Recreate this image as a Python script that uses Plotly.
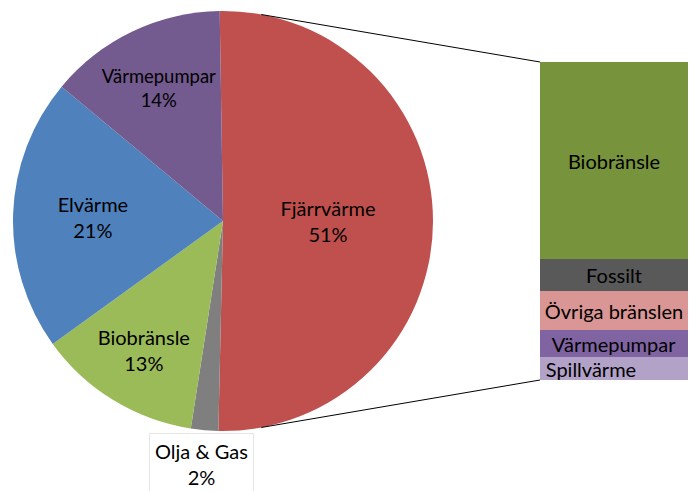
import math
import plotly.graph_objects as go

# Pie data (share of heating, %)
pie_labels = ["Fjärrvärme", "Olja & Gas", "Biobränsle", "Elvärme", "Värmepumpar"]
pie_values = [50.6, 2.1, 12.6, 21.0, 13.7]
pie_colors = ["#C0504D", "#7F7F7F", "#9BBB59", "#4F81BD", "#735A8F"]

# Breakdown of Fjärrvärme (%), top to bottom
bar_labels = ["Biobränsle", "Fossilt", "Övriga bränslen", "Värmepumpar", "Spillvärme"]
bar_values = [61.8, 10.1, 12.3, 8.5, 7.3]
bar_colors = ["#77933C", "#595959", "#D99694", "#8064A2", "#B3A2C7"]
bar_label_pad = [0, 0, 0, 0, 9]  # trailing spaces (label offset to the left)

W, H = 689, 491
FONT = "Lato"
FS = 20

def px(X):
    return X / W

def py(Y):
    return 1 - Y / H

# pie geometry (pixels)
cx, cy, r = 223, 221, 210
pie_dom_x = [px(cx - r), px(cx + r)]
pie_dom_y = [py(cy + r), py(cy - r)]

# bar geometry (pixels)
bx0, bx1, by0, by1 = 540, 688, 62, 380
bar_dom_x = [px(bx0), px(bx1)]
bar_dom_y = [py(by1), py(by0)]

fig = go.Figure()

total = sum(pie_values)
positions = ["inside" if l != "Olja & Gas" else "none" for l in pie_labels]
fig.add_trace(go.Pie(
    labels=pie_labels, values=pie_values,
    sort=False, direction="clockwise", rotation=-0.9,
    marker=dict(colors=pie_colors, line=dict(width=0)),
    texttemplate="%{label}<br>%{percent:.0%}",
    textposition=positions,
    insidetextorientation="horizontal",
    textfont=dict(family=FONT, size=FS, color="#000000"),
    domain=dict(x=pie_dom_x, y=pie_dom_y),
    showlegend=False, hoverinfo="label+percent",
))

for lab, val, col, pad in zip(bar_labels, bar_values, bar_colors, bar_label_pad):
    fig.add_trace(go.Bar(
        x=[0], y=[val], name=lab, width=1,
        marker=dict(color=col, line=dict(width=0)),
        text=[lab + "\u00a0" * pad], textposition="inside", insidetextanchor="middle",
        constraintext="none", textangle=0,
        textfont=dict(family=FONT, size=FS, color="#000000"),
        xaxis="x", yaxis="y", showlegend=False,
    ))

# Olja & Gas label below the pie
og_idx = pie_labels.index("Olja & Gas")
og_pct = round(pie_values[og_idx] / total * 100)
annotations = [dict(
    x=px(202), y=py(464), xref="paper", yref="paper",
    text=f"{pie_labels[og_idx]}<br>{og_pct}%", showarrow=False,
    font=dict(family=FONT, size=FS, color="#000000"),
    bgcolor="#FFFFFF", bordercolor="#E6E6E6", borderwidth=1, borderpad=5,
    xanchor="center", yanchor="middle",
)]

# connector lines from pie edge to bar corners
def pie_pt(deg):
    a = math.radians(deg)
    return px(cx + r * math.sin(a)), py(cy - r * math.cos(a))

tx, ty = pie_pt(10.5)
bx_, by_ = pie_pt(169.5)
shapes = [
    dict(type="line", xref="paper", yref="paper", x0=tx, y0=ty,
         x1=bar_dom_x[0], y1=bar_dom_y[1], line=dict(color="#000000", width=1)),
    dict(type="line", xref="paper", yref="paper", x0=bx_, y0=by_,
         x1=bar_dom_x[0], y1=bar_dom_y[0], line=dict(color="#000000", width=1)),
]

fig.update_layout(
    width=W, height=H,
    margin=dict(l=0, r=0, t=0, b=0),
    paper_bgcolor="#FFFFFF", plot_bgcolor="rgba(0,0,0,0)",
    barmode="stack", bargap=0,
    xaxis=dict(domain=bar_dom_x, range=[-0.5, 0.5], visible=False, fixedrange=True),
    yaxis=dict(domain=bar_dom_y, range=[100, 0], visible=False, fixedrange=True),
    annotations=annotations, shapes=shapes,
    font=dict(family=FONT),
)

fig.write_html(
    "out.html",
    config={"displayModeBar": False},
    post_script="document.body.style.margin='0';document.body.style.overflow='hidden';",
)
